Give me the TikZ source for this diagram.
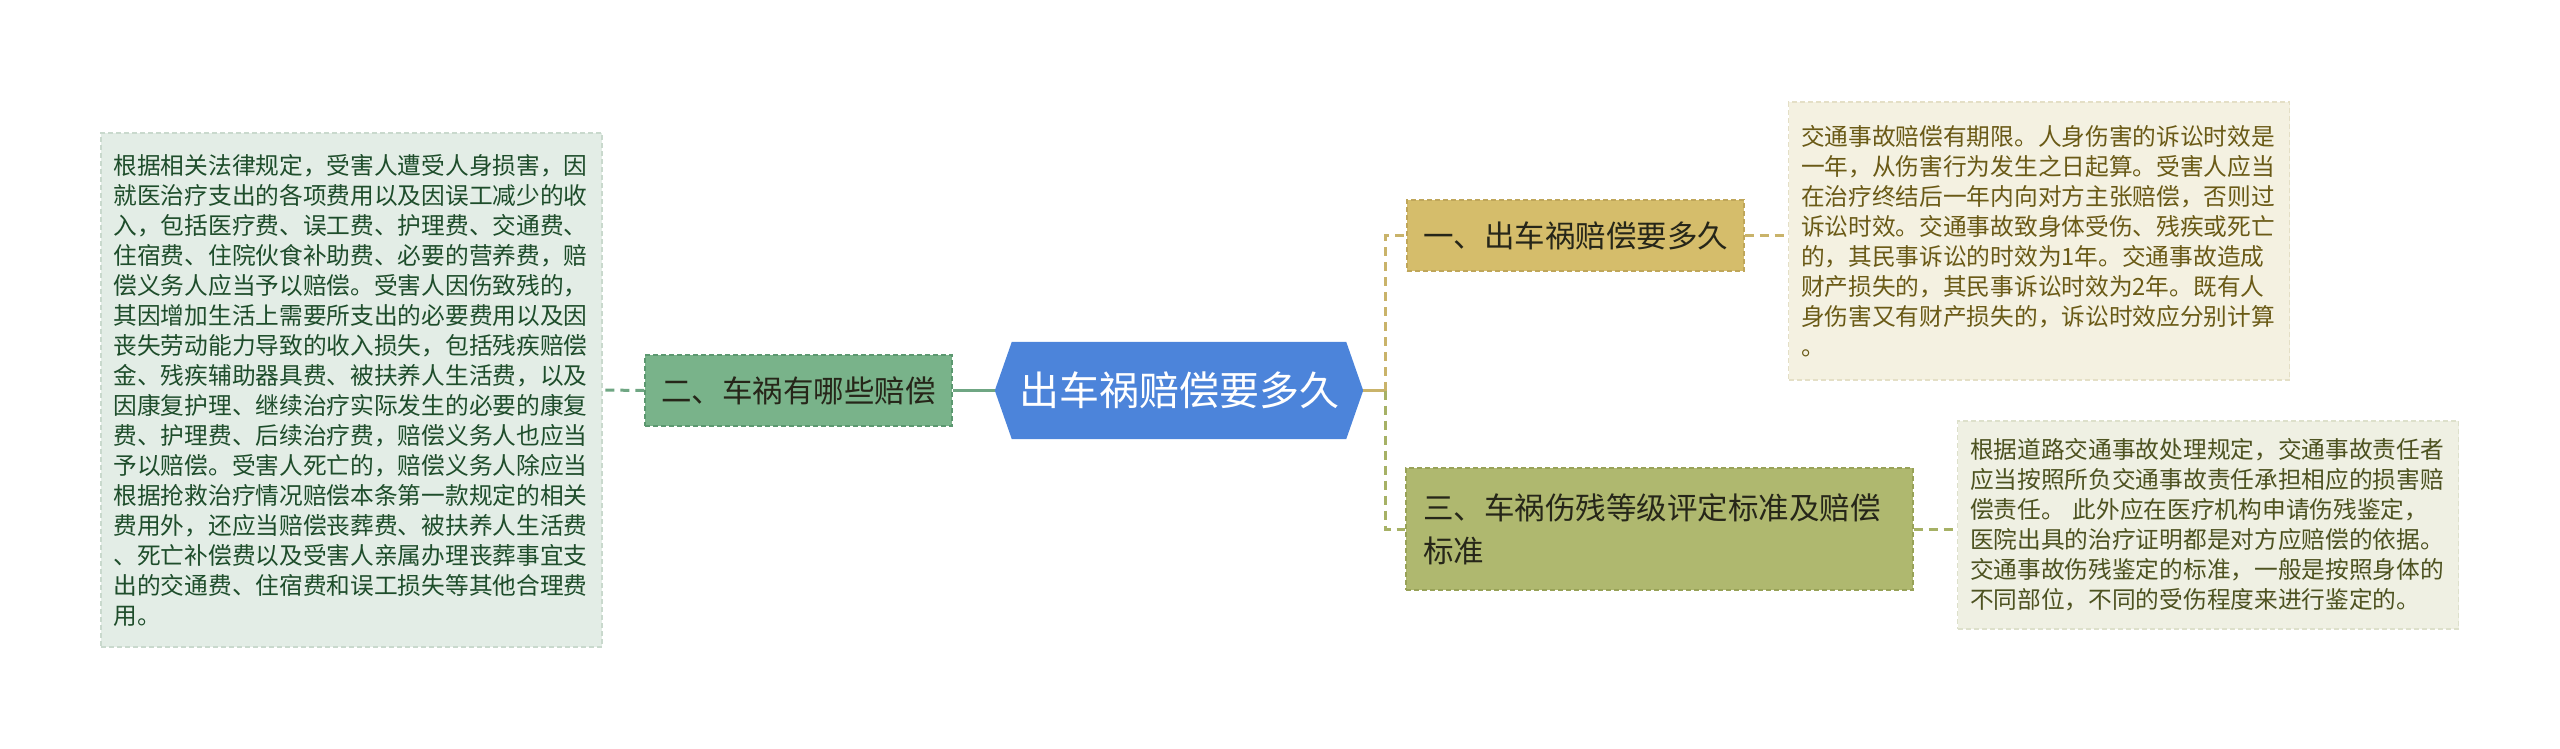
\documentclass[tikz,border=0pt]{standalone}
\usepackage{fontspec}
\setmainfont{Noto Sans CJK SC}
\usetikzlibrary{backgrounds}
\definecolor{lgfill}{HTML}{E3EDE6}
\definecolor{lgdraw}{HTML}{C9D9CD}
\definecolor{lgtext}{HTML}{1E4D2B}
\definecolor{gfill}{HTML}{79B38A}
\definecolor{gdraw}{HTML}{5C9870}
\definecolor{gline}{HTML}{6FA683}
\definecolor{bfill}{HTML}{4C84DA}
\definecolor{bdraw}{HTML}{3F74C6}
\definecolor{yfill}{HTML}{D5BD6B}
\definecolor{ydraw}{HTML}{BFA65A}
\definecolor{yline}{HTML}{C9B36A}
\definecolor{ofill}{HTML}{AFB86F}
\definecolor{odraw}{HTML}{98A258}
\definecolor{oline}{HTML}{A6B165}
\definecolor{cfill}{HTML}{F4F1E1}
\definecolor{cdraw}{HTML}{E4DFC6}
\definecolor{ctext}{HTML}{6A5A16}
\definecolor{efill}{HTML}{EFF0E3}
\definecolor{edraw}{HTML}{DDE0CB}
\definecolor{etext}{HTML}{4D5220}
\definecolor{dtext}{HTML}{262619}
\begin{document}
\begin{tikzpicture}[x=1pt,y=-1pt,
  boxline/.style={dash pattern=on 5pt off 3pt, line width=1.4pt},
  descbox/.style={boxline, align=left, text width=476pt, inner xsep=12.5pt, inner ysep=0pt,
    font=\fontsize{23.7}{30}\selectfont, minimum width=501pt},
  branchbox/.style={boxline, inner sep=0pt, font=\fontsize{30.5}{43}\selectfont, text=dtext},
  conn/.style={line width=3pt, dash pattern=on 9pt off 6pt},
  stub/.style={line width=3pt}
]
\useasboundingbox (0,0) rectangle (2560,749);

% root
\node[inner sep=0pt, minimum width=368pt, minimum height=97pt, text=white,
      font=\fontsize{40}{48}\selectfont] (root) at (1179,390.5) {出车祸赔偿要多久};
\begin{scope}[on background layer]
\fill[bfill] (root.west) -- ([xshift=17pt]root.north west) -- ([xshift=-17pt]root.north east)
  -- (root.east) -- ([xshift=-17pt]root.south east) -- ([xshift=17pt]root.south west) -- cycle;
\end{scope}

% branches
\node[branchbox, fill=yfill, draw=ydraw, minimum width=337pt, minimum height=71pt]
  (b1) at (1575.5,235.5) {一、出车祸赔偿要多久};
\node[branchbox, fill=gfill, draw=gdraw, minimum width=307pt, minimum height=71pt]
  (b2) at (798.5,390.5) {二、车祸有哪些赔偿};
\node[branchbox, fill=ofill, draw=odraw, minimum width=507pt, minimum height=122pt,
      text width=473pt, align=left]
  (b3) at (1659.5,529) {三、车祸伤残等级评定标准及赔偿\\标准};

% descriptions
\node[descbox, fill=lgfill, draw=lgdraw, text=lgtext, minimum height=514pt] (d2) at (351.5,390) {%
根据相关法律规定，受害人遭受人身损害，因\\
就医治疗支出的各项费用以及因误工减少的收\\
入，包括医疗费、误工费、护理费、交通费、\\
住宿费、住院伙食补助费、必要的营养费，赔\\
偿义务人应当予以赔偿。受害人因伤致残的，\\
其因增加生活上需要所支出的必要费用以及因\\
丧失劳动能力导致的收入损失，包括残疾赔偿\\
金、残疾辅助器具费、被扶养人生活费，以及\\
因康复护理、继续治疗实际发生的必要的康复\\
费、护理费、后续治疗费，赔偿义务人也应当\\
予以赔偿。受害人死亡的，赔偿义务人除应当\\
根据抢救治疗情况赔偿本条第一款规定的相关\\
费用外，还应当赔偿丧葬费、被扶养人生活费\\
、死亡补偿费以及受害人亲属办理丧葬事宜支\\
出的交通费、住宿费和误工损失等其他合理费\\
用。};

\node[descbox, fill=cfill, draw=cdraw, text=ctext, minimum height=278pt] (d1) at (2039,241) {%
交通事故赔偿有期限。人身伤害的诉讼时效是\\
一年，从伤害行为发生之日起算。受害人应当\\
在治疗终结后一年内向对方主张赔偿，否则过\\
诉讼时效。交通事故致身体受伤、残疾或死亡\\
的，其民事诉讼的时效为1年。交通事故造成\\
财产损失的，其民事诉讼时效为2年。既有人\\
身伤害又有财产损失的，诉讼时效应分别计算\\
。};

\node[descbox, fill=efill, draw=edraw, text=etext, minimum height=208pt] (d3) at (2208,525) {%
根据道路交通事故处理规定，交通事故责任者\\
应当按照所负交通事故责任承担相应的损害赔\\
偿责任。 此外应在医疗机构申请伤残鉴定，\\
医院出具的治疗证明都是对方应赔偿的依据。\\
交通事故伤残鉴定的标准，一般是按照身体的\\
不同部位，不同的受伤程度来进行鉴定的。};

% connectors
\coordinate (j) at (1385,390.5);
\begin{scope}[on background layer]
\draw[stub, gline] (root.west) -- (b2.east);
\draw[conn, gline] (b2.west) -- (d2.east);
\draw[stub, yline] (root.east) -- (j);
\draw[conn, yline] (j) |- (b1.west);
\draw[conn, oline] (j) |- (b3.west);
\draw[conn, yline] (b1.east) -- (b1.east -| d1.west);
\draw[conn, oline] (b3.east) -- (b3.east -| d3.west);
\end{scope}
\end{tikzpicture}
\end{document}
